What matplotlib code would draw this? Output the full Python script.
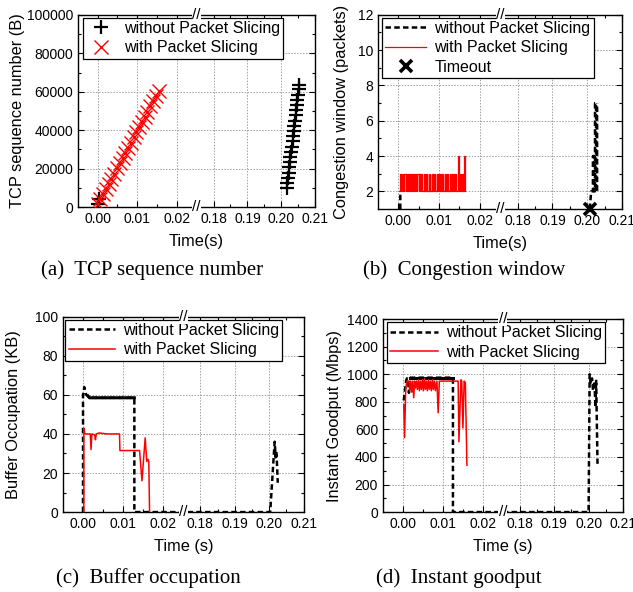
import numpy as np
import matplotlib
matplotlib.use("Agg")
import matplotlib.pyplot as plt
from matplotlib.ticker import FixedLocator

plt.rcParams["font.family"] = ["Liberation Sans", "DejaVu Sans"]

# ---------------- data ----------------
# (a) TCP sequence number
SEQ_RED_T = [0.0000, 0.0007, 0.0014, 0.0021, 0.0028, 0.0035, 0.0042, 0.0049, 0.0056, 0.0063,
             0.0070, 0.0077, 0.0084, 0.0091, 0.0098, 0.0105, 0.0112, 0.0119, 0.0126, 0.0133,
             0.0140, 0.0147, 0.0154]
SEQ_RED = [1460, 4100, 6800, 9500, 12200, 14800, 17500, 20200, 22900, 25600, 28200, 30900,
           33600, 36300, 39000, 41600, 44300, 47000, 49700, 52400, 55000, 57700, 60400]
SEQ_BLK_T = [0.0002, 0.0003, 0.2016, 0.2018, 0.2020, 0.2022, 0.2024, 0.2025, 0.2027, 0.2029,
             0.2031, 0.2033, 0.2034, 0.2036, 0.2038, 0.2040, 0.2042, 0.2043, 0.2045, 0.2047,
             0.2049, 0.2051, 0.2052]
SEQ_BLK = [1460, 4380, 9900, 12600, 15300, 18000, 20700, 23400, 26100, 28800, 31500, 34200,
           36900, 39600, 42300, 45000, 47700, 50400, 53100, 55800, 58500, 61200, 63400]

# (b) congestion window
CW_RED_T = [0.0002, 0.0004, 0.0006, 0.0007, 0.0010, 0.0011, 0.0014, 0.0015, 0.0018, 0.0019,
            0.0022, 0.0023, 0.0026, 0.0027, 0.0030, 0.0031, 0.0034, 0.0035, 0.0038, 0.0039,
            0.0042, 0.0043, 0.0046, 0.0047, 0.0050, 0.0051, 0.0054, 0.0055, 0.0058, 0.0062,
            0.0063, 0.0066, 0.0067, 0.0070, 0.0071, 0.0075, 0.0076, 0.0078, 0.0079, 0.0082,
            0.0083, 0.0086, 0.0087, 0.0090, 0.0091, 0.0094, 0.0095, 0.0098, 0.0099, 0.0102,
            0.0103, 0.0106, 0.0107, 0.0110, 0.0111, 0.0114, 0.0115, 0.0118, 0.0119, 0.0122,
            0.0123, 0.0126, 0.0127, 0.0130, 0.0131, 0.0134, 0.0135, 0.0138, 0.0139, 0.0142,
            0.0143, 0.0146, 0.0147, 0.0148, 0.0149, 0.0152, 0.0153, 0.0156, 0.0157, 0.0160,
            0.0161, 0.0162, 0.0163]
CW_RED = [2, 3, 2, 3, 2, 3, 2, 3, 2, 3,
          2, 3, 2, 3, 2, 3, 2, 3, 2, 3,
          2, 3, 2, 3, 2, 3, 2, 3, 2, 3,
          2, 3, 2, 3, 2, 3, 2, 3, 2, 3,
          2, 3, 2, 3, 2, 3, 2, 3, 2, 3,
          2, 3, 2, 3, 2, 3, 2, 3, 2, 3,
          2, 3, 2, 3, 2, 3, 2, 3, 2, 3,
          2, 3, 4, 3, 2, 3, 2, 3, 2, 3,
          2, 4, 2]
# nan splits the early bit from the burst after the timeout
CW_BLK_T = [0.0005, 0.0005, np.nan, 0.2007, 0.2011, 0.2011, 0.2016, 0.2016, 0.2019, 0.2019,
            0.2022, 0.2022, 0.2025, 0.2025, 0.2028, 0.2028]
CW_BLK = [1, 2, np.nan, 1, 2, 2, 2, 4, 4, 2, 2, 7, 7, 2, 2, 7]
TIMEOUT_T = [0.2007]
TIMEOUT_CW = [1]

# (c) buffer occupation (KB)
BUF_BLK_T = [0.0000, 0.0000, 0.0003, 0.0005, 0.0008, 0.0012, 0.0016, 0.0128, 0.0128, 0.0200,
             0.2003, 0.2016, 0.2019, 0.2021, 0.2023, 0.2025]
BUF_BLK = [0, 60, 64, 62, 60, 59.5, 58.5, 58.5, 0, 0, 0, 36, 28, 31, 24, 15]
BUF_RED_T = [0.0002, 0.0002, 0.0004, 0.0006, 0.0018, 0.0020, 0.0022, 0.0029, 0.0031, 0.0033,
             0.0040, 0.0060, 0.0091, 0.0092, 0.0141, 0.0147, 0.0155, 0.0159, 0.0162, 0.0164,
             0.0166]
BUF_RED = [0, 43, 40.5, 40, 40, 32, 40, 39.5, 37, 40, 40.5, 40, 40, 31.5, 31.5, 16, 38, 26,
           27, 26, 0]

# (d) instant goodput (Mbps)
GP_BLK_T = [0.0002, 0.0008, 0.0010, 0.0013, 0.0015, 0.0017, 0.0020, 0.0125, 0.0125, 0.0200,
            0.2000, 0.2003, 0.2006, 0.2010, 0.2013, 0.2017, 0.2020, 0.2022, 0.2026]
GP_BLK = [810, 955, 970, 960, 865, 975, 975, 975, 0, 0, 0, 1000, 930, 970, 880, 950, 760,
          960, 350]
GP_RED_T = [0.0002, 0.0004, 0.0007, 0.0010, 0.0015, 0.0017, 0.0019, 0.0022, 0.0024, 0.0027,
            0.0029, 0.0031, 0.0034, 0.0036, 0.0039, 0.0041, 0.0044, 0.0046, 0.0049, 0.0051,
            0.0054, 0.0056, 0.0059, 0.0061, 0.0064, 0.0066, 0.0069, 0.0071, 0.0074, 0.0076,
            0.0079, 0.0081, 0.0085, 0.0088, 0.0091, 0.0138, 0.0140, 0.0145, 0.0147, 0.0150,
            0.0153, 0.0156, 0.0160]
GP_RED = [780, 540, 900, 950, 950, 880, 950, 870, 950, 830, 950, 900, 950, 890, 960, 880,
          950, 890, 960, 880, 970, 890, 950, 880, 960, 890, 950, 880, 960, 890, 950, 880,
          950, 720, 950, 950, 510, 960, 950, 610, 950, 940, 340]

# ---------------- broken x axis ----------------
def _fwd(x):
    x = np.asarray(x, dtype=float)
    left = np.minimum((x + 0.005) / 0.06, 0.5)
    right = np.maximum(0.5 + (x - 0.175) / 0.07, 0.5)
    return np.where(x <= 0.1, left, right)


def _inv(u):
    u = np.asarray(u, dtype=float)
    return np.where(u <= 0.5, u * 0.06 - 0.005, (u - 0.5) * 0.07 + 0.175)


XTICKS = [0.00, 0.01, 0.02, 0.18, 0.19, 0.20, 0.21]
XMINOR = [0.005, 0.015, 0.185, 0.195, 0.205]
LEG_FS = 11.5
LAB_FS = 11.8
TICK_FS = 10


def style_axes(ax, ylim, yticks, yminor, ylabel, xlabel, ylab_x):
    ax.set_xscale("function", functions=(_fwd, _inv))
    ax.set_xlim(-0.005, 0.21)
    ax.xaxis.set_major_locator(FixedLocator(XTICKS))
    ax.xaxis.set_minor_locator(FixedLocator(XMINOR))
    ax.set_xticklabels([f"{t:.2f}" for t in XTICKS])
    ax.set_ylim(*ylim)
    ax.yaxis.set_major_locator(FixedLocator(yticks))
    ax.yaxis.set_minor_locator(FixedLocator(yminor))
    ax.tick_params(which="both", direction="in", top=True, right=True, labelsize=TICK_FS,
                   width=0.8)
    ax.tick_params(which="major", length=4)
    ax.tick_params(which="minor", length=2)
    ax.grid(True, which="major", linestyle=(0, (1.5, 1.5)), color="#a0a0a0", linewidth=0.7)
    ax.set_ylabel(ylabel, fontsize=LAB_FS, va="center")
    ax.yaxis.set_label_coords(ylab_x, 0.5)
    ax.set_xlabel(xlabel, fontsize=LAB_FS, labelpad=6)
    for sp in ax.spines.values():
        sp.set_linewidth(1.0)
    # "//" break marks on bottom and top spines
    for yy in (0.0, 1.0):
        ax.text(0.5, yy, "//", transform=ax.transAxes, ha="center", va="center",
                fontsize=11, clip_on=False, zorder=10,
                bbox=dict(facecolor="white", edgecolor="none", pad=0.2))


fig = plt.figure(figsize=(6.33, 5.92), dpi=100)
ax_a = fig.add_axes([0.123, 0.650, 0.375, 0.325])
ax_b = fig.add_axes([0.597, 0.647, 0.386, 0.328])
ax_c = fig.add_axes([0.0995, 0.135, 0.380, 0.330])
ax_d = fig.add_axes([0.605, 0.135, 0.379, 0.326])

LBL_NO = "without Packet Slicing"
LBL_YES = "with Packet Slicing"

# (a)
ax_a.plot(SEQ_BLK_T, SEQ_BLK, linestyle="none", marker="+", color="black", markersize=10,
          markeredgewidth=1.6, label=LBL_NO, zorder=3)
ax_a.plot(SEQ_RED_T, SEQ_RED, linestyle="none", marker="x", color="red", markersize=9.5,
          markeredgewidth=1.0, label=LBL_YES, zorder=3)
style_axes(ax_a, (0, 100000), list(range(0, 100001, 20000)), list(range(10000, 100000, 20000)),
           "TCP sequence number (B)", "Time(s)", -0.255)
ax_a.set_yticklabels([str(v) for v in range(0, 100001, 20000)])

# (b)
ax_b.plot(CW_BLK_T, CW_BLK, color="black", linestyle=(0, (2.2, 1.3)), linewidth=1.8,
          label=LBL_NO, zorder=3)
ax_b.step(CW_RED_T, CW_RED, where="post", color="red", linewidth=0.9, label=LBL_YES, zorder=3)
ax_b.plot(TIMEOUT_T, TIMEOUT_CW, linestyle="none", marker="x", color="black", markersize=8,
          markeredgewidth=2.6, label="Timeout", clip_on=False, zorder=5)
style_axes(ax_b, (1, 12), [2, 4, 6, 8, 10, 12], [3, 5, 7, 9, 11],
           "Congestion window (packets)", "Time(s)", -0.148)

# (c)
ax_c.plot(BUF_BLK_T, BUF_BLK, color="black", linestyle=(0, (2.2, 1.3)), linewidth=1.8,
          label=LBL_NO, zorder=3)
ax_c.plot(BUF_BLK_T[5:8], BUF_BLK[5:8], color="black", linewidth=2.2, zorder=3)
ax_c.plot(BUF_RED_T, BUF_RED, color="red", linewidth=1.1, label=LBL_YES, zorder=4)
style_axes(ax_c, (0, 100), list(range(0, 101, 20)), list(range(10, 100, 20)),
           "Buffer Occupation (KB)", "Time (s)", -0.205)

# (d)
ax_d.plot(GP_BLK_T, GP_BLK, color="black", linestyle=(0, (2.2, 1.3)), linewidth=1.8,
          label=LBL_NO, zorder=3)
ax_d.plot(GP_BLK_T[5:8], GP_BLK[5:8], color="black", linewidth=2.2, zorder=3)
ax_d.plot(GP_RED_T, GP_RED, color="red", linewidth=1.1, label=LBL_YES, zorder=4)
style_axes(ax_d, (0, 1400), list(range(0, 1401, 200)), list(range(100, 1400, 200)),
           "Instant Goodput (Mbps)", "Time (s)", -0.2)

leg_kw = dict(fontsize=LEG_FS, frameon=True, fancybox=False, edgecolor="black",
              framealpha=1.0, borderaxespad=0, labelspacing=0.28, handletextpad=0.5,
              borderpad=0.2)
ax_a.legend(loc="upper left", bbox_to_anchor=(0.02, 0.985), handlelength=1.9, **leg_kw)
ax_b.legend(loc="upper left", bbox_to_anchor=(0.015, 0.985), handlelength=2.6, **leg_kw)
ax_c.legend(loc="upper left", bbox_to_anchor=(0.01, 0.985), handlelength=2.9, **leg_kw)
ax_d.legend(loc="upper left", bbox_to_anchor=(0.015, 0.985), handlelength=3.0, **leg_kw)
for ax in (ax_a, ax_b, ax_c, ax_d):
    ax.get_legend().get_frame().set_linewidth(0.9)

cap_kw = dict(fontsize=15, family=["Liberation Serif", "DejaVu Serif"], ha="center", va="center")
fig.text(152 / 633, 1 - 270 / 592, "(a)  TCP sequence number", **cap_kw)
fig.text(464 / 633, 1 - 270 / 592, "(b)  Congestion window", **cap_kw)
fig.text(148 / 633, 1 - 578 / 592, "(c)  Buffer occupation", **cap_kw)
fig.text(459 / 633, 1 - 578 / 592, "(d)  Instant goodput", **cap_kw)

fig.savefig("out.png", dpi=100, facecolor="white")
